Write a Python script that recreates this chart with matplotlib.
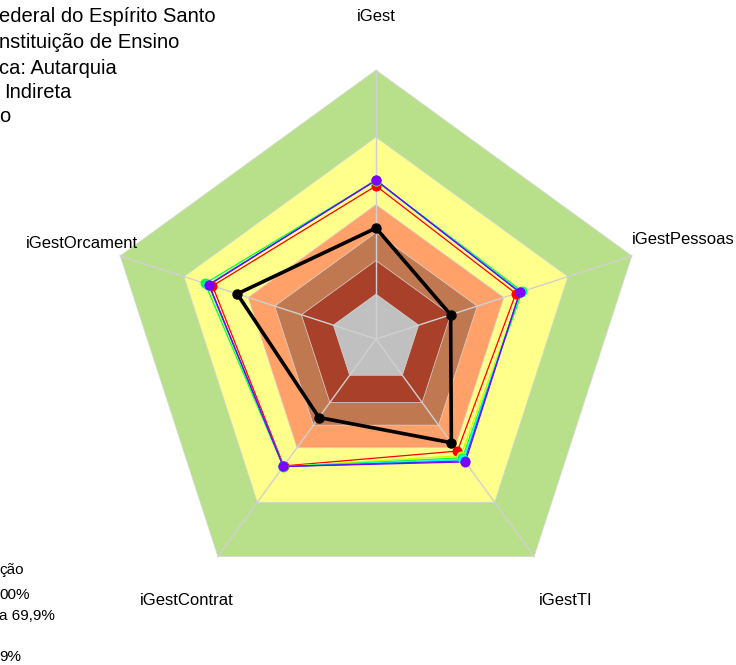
import numpy as np
import matplotlib
matplotlib.use('Agg')
import matplotlib.pyplot as plt
from matplotlib.patches import Polygon

plt.rcParams['font.family'] = ['Liberation Sans', 'DejaVu Sans']

# ---- data ----
axis_labels = ['iGest', 'iGestPessoas', 'iGestTI', 'iGestContrat', 'iGestOrcament']
band_limits = [100, 70, 40, 27.5, 15, 0]          # % thresholds, outer to inner
band_colors = ['#B8E08A', '#FFFF8C', '#FFA169', '#C07850', '#A8402A', '#C0C0C0']

series_red = [48.3, 45.6, 41.8, 50.0, 56.7]
series_yellow = [50.5, 48.0, 44.3, 50.3, 58.6]
series_green = [50.7, 48.6, 45.5, 50.4, 60.2]
series_cyan = [50.8, 47.8, 46.4, 50.3, 58.6]
series_blue = [50.8, 47.5, 47.2, 50.3, 58.4]
series_purple = [50.9, 47.4, 47.8, 50.3, 58.3]
series_colors = ['#FF0000', '#C8FF00', '#00FF40', '#00FFFF', '#0050FF', '#7F00FF']
series_black = [29.5, 15.0, 37.2, 23.3, 45.1]

title_lines = ['ederal do Espírito Santo', 'nstituição de Ensino', 'ca: Autarquia',
               'Indireta', 'o']
legend_lines = ['ção', '00%', 'a 69,9%', '', '9%']

# ---- figure ----
W, H = 736, 665
R = 269.0
cx, cy = 376.0, 339.0
fig = plt.figure(figsize=(W / 100, H / 100), dpi=100)
ax = fig.add_axes([0, 0, 1, 1])
ax.set_xlim(-cx / R, (W - cx) / R)
ax.set_ylim(-(H - cy) / R, cy / R)
ax.axis('off')

seg = 5
n = len(axis_labels)
angles = np.deg2rad(90 - 360 / n * np.arange(n))


def rad(v):
    return (1 + seg * np.asarray(v, dtype=float) / 100) / (seg + 1)


def xy(vals):
    r = rad(vals)
    return r * np.cos(angles), r * np.sin(angles)


for lim, col in zip(band_limits, band_colors):
    x, y = xy([lim] * n)
    ax.add_patch(Polygon(np.column_stack([x, y]), closed=True, facecolor=col,
                         edgecolor='#D8D8D8', linewidth=0.5, zorder=1))

xo, yo = xy([100] * n)
for i in range(n):
    ax.plot([0, xo[i]], [0, yo[i]], color='#D0D0D0', lw=1.0, zorder=2)

all_series = [series_red, series_yellow, series_green, series_cyan, series_blue, series_purple]
for s, c in zip(all_series, series_colors):
    x, y = xy(s)
    ax.plot(np.append(x, x[0]), np.append(y, y[0]), color=c, lw=0.9, zorder=3)
    ax.plot(x, y, 'o', color=c, ms=7.2, mec='none', zorder=4)

x, y = xy(series_black)
ax.plot(np.append(x, x[0]), np.append(y, y[0]), color='black', lw=2.6, zorder=5)
ax.plot(x, y, 'o', color='black', ms=6.5, zorder=6)

label_r = [1.2, 1.2, 1.2, 1.2, 1.15]
for i, lab in enumerate(axis_labels):
    ax.text(label_r[i] * np.cos(angles[i]), label_r[i] * np.sin(angles[i]), lab,
            ha='center', va='center', fontsize=12)

title_y = [17, 42, 68, 93, 117]
title_x = [-1, -1, -1, 4, -1]
for t, py, px in zip(title_lines, title_y, title_x):
    fig.text(px / W, 1 - py / H, t, ha='left', va='center', fontsize=14.5)

legend_y = [570, 595, 616, 637, 657]
for t, py in zip(legend_lines, legend_y):
    fig.text(-1 / W, 1 - py / H, t, ha='left', va='center', fontsize=11)

fig.savefig('out.png', dpi=100)
